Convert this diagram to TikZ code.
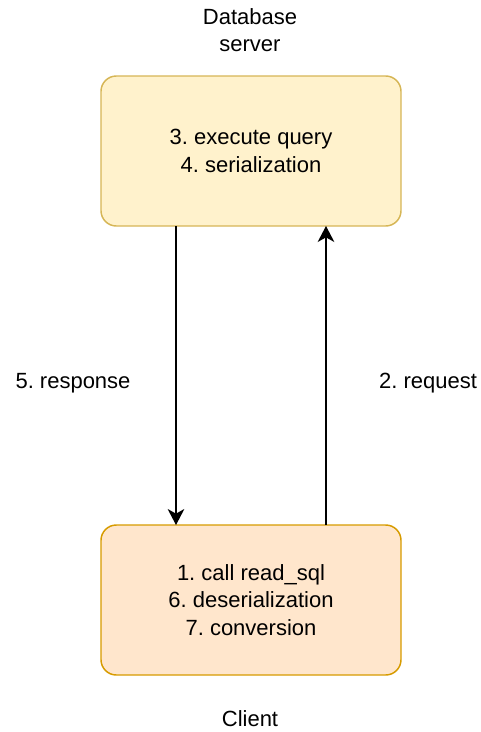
\documentclass[tikz,border=0pt]{standalone}
\usepackage{fontspec}
\setmainfont{Liberation Sans}
\usetikzlibrary{arrows.meta}
\frenchspacing
\definecolor{dbfill}{HTML}{FFF2CC}
\definecolor{dbline}{HTML}{D6B656}
\definecolor{clfill}{HTML}{FFE6CC}
\definecolor{clline}{HTML}{D79B00}
\tikzset{
  box/.style={draw, line width=1.1pt, rounded corners=11.5pt, minimum width=225pt, minimum height=112.5pt, align=center, inner sep=0pt},
  lbl/.style={align=center, inner sep=0pt},
  flow/.style={line width=1.1pt, -{Stealth[length=12pt,width=12.5pt,inset=3.5pt]}},
  every node/.style={font=\fontsize{16.5pt}{20.6pt}\selectfont}
}
\begin{document}
\begin{tikzpicture}[x=0.75pt,y=-0.75pt]
  \useasboundingbox (0,0) rectangle (480,732);
  % boxes
  \node[box, fill=dbfill, draw=dbline] (db) at (251,151) {3. execute query\\4. serialization};
  \node[box, fill=clfill, draw=clline] (cl) at (251,600) {1. call read\_sql\\6. deserialization\\7. conversion};
  % captions
  \node[lbl] (dbname) at (250,30) {Database\\server};
  \node[lbl] (clname) at (250,719) {Client};
  % connectors
  \coordinate (dbL) at (176,226);
  \coordinate (clL) at (176,525);
  \coordinate (dbR) at (326,226);
  \coordinate (clR) at (326,525);
  \draw[flow] (dbL) -- (clL);
  \draw[flow] (clR) -- (dbR);
  \node[lbl] (resp) at (73,383) {5. response};
  \node[lbl] (req) at (428,383) {2. request};
\end{tikzpicture}
\end{document}
